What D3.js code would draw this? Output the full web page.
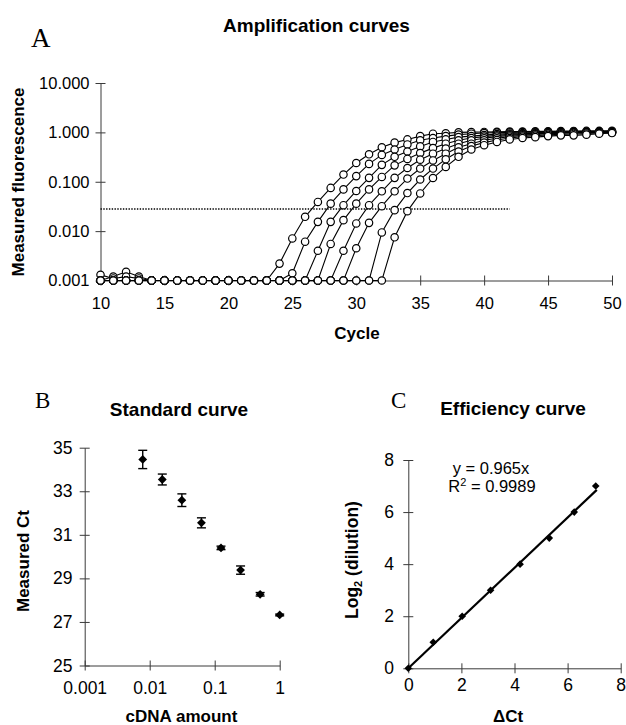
<!DOCTYPE html>
<html><head><meta charset="utf-8">
<script src="https://cdn.jsdelivr.net/npm/d3@7"></script>
<style>
body{margin:0;background:#fff}
svg{display:block}
text{font-family:"Liberation Sans",Arial,Helvetica,sans-serif;fill:#000}
</style>
</head><body>
<svg id="chart" width="626" height="725"></svg>
<script>
// ---------- Panel A data: amplification curves (cycles 10..50) ----------
const cycles = [10,11,12,13,14,15,16,17,18,19,20,21,22,23,24,25,26,27,28,29,30,
  31,32,33,34,35,36,37,38,39,40,41,42,43,44,45,46,47,48,49,50];
const curve1 = [0.001,0.0012,0.0015,0.0012,0.001,0.001,0.001,0.001,0.001,0.001,0.001,0.001,0.001,0.001,
  0.0022,0.0071,0.0195,0.039,0.075,0.14,0.24,0.36,0.50,0.62,0.72,0.84,0.94,0.96,1.0,1.01,
  1.02,1.03,1.04,1.04,1.05,1.05,1.06,1.06,1.07,1.07,1.08];
const curve2 = [0.0013,0.0011,0.0012,0.0011,0.001,0.001,0.001,0.001,0.001,0.001,0.001,0.001,0.001,0.001,0.001,
  0.0014,0.0061,0.0154,0.036,0.070,0.13,0.23,0.35,0.45,0.57,0.69,0.77,0.84,0.90,0.94,
  0.97,0.99,1.0,1.01,1.02,1.03,1.03,1.04,1.04,1.05,1.05];
const curve3 = [0.001,0.001,0.001,0.001,0.001,0.001,0.001,0.001,0.001,0.001,0.001,0.001,0.001,0.001,0.001,0.001,0.001,
  0.0040,0.0154,0.0335,0.065,0.12,0.22,0.32,0.41,0.52,0.64,0.72,0.80,0.84,
  0.88,0.92,0.95,0.97,0.99,1.0,1.01,1.02,1.02,1.03,1.03];
const curve4 = [0.001,0.001,0.001,0.001,0.001,0.001,0.001,0.001,0.001,0.001,0.001,0.001,0.001,0.001,0.001,0.001,0.001,0.001,
  0.0055,0.0167,0.036,0.070,0.125,0.215,0.29,0.38,0.48,0.59,0.69,0.77,
  0.82,0.87,0.91,0.94,0.96,0.98,0.99,1.0,1.01,1.02,1.02];
const curve5 = [0.001,0.001,0.001,0.001,0.001,0.001,0.001,0.001,0.001,0.001,0.001,0.001,0.001,0.001,0.001,0.001,0.001,0.001,0.001,
  0.0040,0.0143,0.0335,0.064,0.12,0.19,0.28,0.37,0.47,0.59,0.69,
  0.76,0.82,0.87,0.91,0.94,0.96,0.98,0.99,1.0,1.0,1.01];
const curve6 = [0.001,0.001,0.001,0.001,0.001,0.001,0.001,0.001,0.001,0.001,0.001,0.001,0.001,0.001,0.001,0.001,0.001,0.001,0.001,0.001,
  0.0045,0.0147,0.032,0.064,0.116,0.185,0.27,0.37,0.50,0.59,
  0.69,0.76,0.82,0.87,0.91,0.94,0.96,0.98,0.99,1.0,1.0];
const curve7 = [0.001,0.001,0.001,0.001,0.001,0.001,0.001,0.001,0.001,0.001,0.001,0.001,0.001,0.001,0.001,0.001,0.001,0.001,0.001,0.001,0.001,0.001,
  0.0094,0.0266,0.059,0.111,0.185,0.285,0.41,0.53,
  0.62,0.70,0.77,0.82,0.86,0.89,0.91,0.93,0.95,0.97,0.98];
const curve8 = [0.001,0.001,0.001,0.001,0.001,0.001,0.001,0.001,0.001,0.001,0.001,0.001,0.001,0.001,0.001,0.001,0.001,0.001,0.001,0.001,0.001,0.001,0.001,
  0.0075,0.0254,0.058,0.119,0.20,0.32,0.45,
  0.55,0.64,0.72,0.77,0.80,0.84,0.87,0.87,0.90,0.94,0.97];
const curvesA = [curve1,curve2,curve3,curve4,curve5,curve6,curve7,curve8];
const thresholdValue = 0.028;
const thresholdCycles = [10, 42];
const fluorTicks = [0.001,0.01,0.1,1,10];
const cycleTicks = [10,15,20,25,30,35,40,45,50];

// ---------- Panel B data: standard curve ----------
const cdnaAmount = [0.0078125,0.015625,0.03125,0.0625,0.125,0.25,0.5,1];
const measuredCt = [34.46,33.54,32.59,31.55,30.40,29.38,28.27,27.32];
const ctError    = [0.42,0.25,0.29,0.23,0.08,0.19,0.08,0.04];
const cdnaTicks = [0.001,0.01,0.1,1];
const ctTicks = [25,27,29,31,33,35];

// ---------- Panel C data: efficiency curve ----------
const deltaCt = [0,0.94,2.03,3.10,4.21,5.31,6.25,7.06];
const log2Dilution = [0,1,2,3,4,5,6,7];
const fitSlope = 0.965;
const fitRange = [0, 7.1];
const effTicks = [0,2,4,6,8];

const svg = d3.select("#chart");
const AX = "#3a3a3a";

function crossTicks(g, orient){
  g.selectAll(".tick line").attr("stroke", AX);
  g.select(".domain").attr("stroke", AX);
  if(orient==="y") g.selectAll(".tick line").attr("x1",-5).attr("x2",5);
  else g.selectAll(".tick line").attr("y1",-5).attr("y2",5);
}
function diamond(r){ return `M0,${-r}L${r},0L0,${r}L${-r},0Z`; }

// ================= Panel A =================
const xA = d3.scaleLinear().domain([10,50]).range([100.5,612]);
const yA = d3.scaleLog().domain([0.001,10]).range([280.5,83]);

const gAy = svg.append("g").attr("transform","translate(100.5,0)")
  .call(d3.axisLeft(yA).tickValues(fluorTicks).tickFormat(d3.format(".3f")).tickSize(5).tickSizeOuter(0).tickPadding(6));
gAy.selectAll("text").attr("font-size","16.5px").attr("font-family",null);
crossTicks(gAy,"y");

const gAx = svg.append("g").attr("transform","translate(0,280.5)")
  .call(d3.axisBottom(xA).tickValues(cycleTicks).tickFormat(d3.format("d")).tickSize(5).tickSizeOuter(0).tickPadding(11.5));
gAx.selectAll("text").attr("font-size","16.5px").attr("font-family",null);
crossTicks(gAx,"x");

// threshold
svg.append("line")
  .attr("x1",xA(thresholdCycles[0])).attr("x2",xA(thresholdCycles[1]))
  .attr("y1",yA(thresholdValue)).attr("y2",yA(thresholdValue))
  .attr("stroke","#000").attr("stroke-width",1.6).attr("stroke-dasharray","1.4,1.4");

const lineA = d3.line().x((d,i)=>xA(cycles[i])).y(d=>yA(d));
curvesA.forEach(c=>{
  const g = svg.append("g");
  g.append("path").attr("d",lineA(c)).attr("fill","none").attr("stroke","#000").attr("stroke-width",1.1);
  g.selectAll("circle").data(c).join("circle")
    .attr("cx",(d,i)=>xA(cycles[i])).attr("cy",d=>yA(d)).attr("r",3.7)
    .attr("fill","#fff").attr("stroke","#000").attr("stroke-width",1.2);
});

svg.append("text").attr("x",316.5).attr("y",32).attr("text-anchor","middle")
  .attr("font-size","19px").attr("font-weight","bold").text("Amplification curves");
svg.append("text").attr("x",31).attr("y",47).attr("font-size","27px")
  .style("font-family",'"Liberation Serif","Times New Roman",serif').text("A");
svg.append("text").attr("transform","translate(18,182) rotate(-90)").attr("text-anchor","middle")
  .attr("dy","0.35em").attr("font-size","17px").attr("font-weight","bold").text("Measured fluorescence");
svg.append("text").attr("x",357).attr("y",339).attr("text-anchor","middle")
  .attr("font-size","17px").attr("font-weight","bold").text("Cycle");

// ================= Panel B =================
const xB = d3.scaleLog().domain([0.001,1]).range([84.7,279.7]);
const yB = d3.scaleLinear().domain([25,35]).range([665.5,447.7]);

const gBy = svg.append("g").attr("transform","translate(84.7,0)")
  .call(d3.axisLeft(yB).tickValues(ctTicks).tickFormat(d3.format("d")).tickSize(5).tickSizeOuter(0).tickPadding(7.3));
gBy.selectAll("text").attr("font-size","17.5px").attr("font-family",null);
crossTicks(gBy,"y");
const gBx = svg.append("g").attr("transform","translate(0,665.5)")
  .call(d3.axisBottom(xB).tickValues(cdnaTicks).tickFormat(d=>String(d)).tickSize(5).tickSizeOuter(0).tickPadding(11));
gBx.selectAll("text").attr("font-size","17.5px").attr("font-family",null);
crossTicks(gBx,"x");

const gBe = svg.append("g");
cdnaAmount.forEach((a,i)=>{
  const x = xB(a), y1 = yB(measuredCt[i]-ctError[i]), y2 = yB(measuredCt[i]+ctError[i]);
  gBe.append("line").attr("x1",x).attr("x2",x).attr("y1",y1).attr("y2",y2).attr("stroke","#000").attr("stroke-width",1.4);
  gBe.append("line").attr("x1",x-4.5).attr("x2",x+4.5).attr("y1",y1).attr("y2",y1).attr("stroke","#000").attr("stroke-width",1.4);
  gBe.append("line").attr("x1",x-4.5).attr("x2",x+4.5).attr("y1",y2).attr("y2",y2).attr("stroke","#000").attr("stroke-width",1.4);
});
svg.append("g").selectAll("path").data(cdnaAmount).join("path")
  .attr("d",diamond(4.4))
  .attr("transform",(d,i)=>`translate(${xB(d)},${yB(measuredCt[i])})`)
  .attr("fill","#000");

svg.append("text").attr("x",35).attr("y",408).attr("font-size","23px")
  .style("font-family",'"Liberation Serif","Times New Roman",serif').text("B");
svg.append("text").attr("x",179).attr("y",416).attr("text-anchor","middle")
  .attr("font-size","19px").attr("font-weight","bold").text("Standard curve");
svg.append("text").attr("transform","translate(23,561) rotate(-90)").attr("text-anchor","middle")
  .attr("dy","0.35em").attr("font-size","17px").attr("font-weight","bold").text("Measured Ct");
svg.append("text").attr("x",181.5).attr("y",722).attr("text-anchor","middle")
  .attr("font-size","17px").attr("font-weight","bold").text("cDNA amount");

// ================= Panel C =================
const xC = d3.scaleLinear().domain([0,8]).range([408.3,620.7]);
const yC = d3.scaleLinear().domain([0,8]).range([668.3,460]);

const gCy = svg.append("g").attr("transform","translate(408.3,0)")
  .call(d3.axisLeft(yC).tickValues(effTicks).tickFormat(d3.format("d")).tickSize(5).tickSizeOuter(0).tickPadding(9.3));
gCy.selectAll("text").attr("font-size","17.5px").attr("font-family",null);
crossTicks(gCy,"y");
const gCx = svg.append("g").attr("transform","translate(0,668.3)")
  .call(d3.axisBottom(xC).tickValues(effTicks).tickFormat(d3.format("d")).tickSize(5).tickSizeOuter(0).tickPadding(5.5));
gCx.selectAll("text").attr("font-size","17.5px").attr("font-family",null);
crossTicks(gCx,"x");

svg.append("line")
  .attr("x1",xC(fitRange[0])).attr("y1",yC(fitSlope*fitRange[0]))
  .attr("x2",xC(fitRange[1])).attr("y2",yC(fitSlope*fitRange[1]))
  .attr("stroke","#000").attr("stroke-width",2.2);
svg.append("g").selectAll("path").data(deltaCt).join("path")
  .attr("d",diamond(3.8))
  .attr("transform",(d,i)=>`translate(${xC(d)},${yC(log2Dilution[i])})`)
  .attr("fill","#000");

svg.append("text").attr("x",391).attr("y",408).attr("font-size","23px")
  .style("font-family",'"Liberation Serif","Times New Roman",serif').text("C");
svg.append("text").attr("x",513).attr("y",415).attr("text-anchor","middle")
  .attr("font-size","19px").attr("font-weight","bold").text("Efficiency curve");
const eq1 = svg.append("text").attr("x",491).attr("y",474).attr("text-anchor","middle").attr("font-size","16.5px");
eq1.text("y = 0.965x");
const eq2 = svg.append("text").attr("x",492).attr("y",492).attr("text-anchor","middle").attr("font-size","16.5px");
eq2.append("tspan").text("R");
eq2.append("tspan").attr("dy","-6").attr("font-size","11px").text("2");
eq2.append("tspan").attr("dy","6").text(" = 0.9989");

const yt = svg.append("text").attr("transform","translate(352,560) rotate(-90)").attr("text-anchor","middle")
  .attr("dy","0.35em").attr("font-size","17.5px").attr("font-weight","bold");
yt.append("tspan").text("Log");
yt.append("tspan").attr("dy","4").attr("font-size","11px").text("2");
yt.append("tspan").attr("dy","-4").text(" (dilution)");
svg.append("text").attr("x",508).attr("y",722).attr("text-anchor","middle")
  .attr("font-size","17px").attr("font-weight","bold").text("\u0394Ct");
</script>
</body></html>
